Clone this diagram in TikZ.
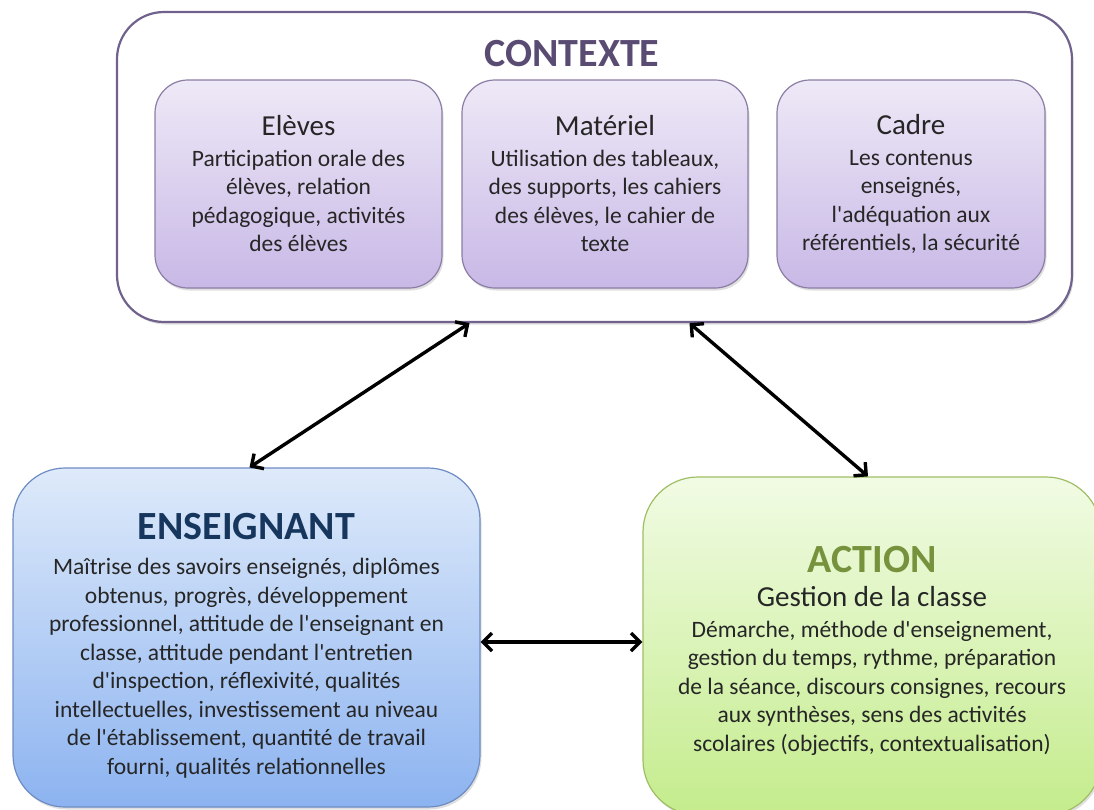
\documentclass[tikz,border=0pt]{standalone}
\usepackage{fontspec}
\setmainfont{Carlito}[Ligatures=TeXOff]
\usepackage{xcolor}
\usetikzlibrary{arrows.meta,shadows}
\definecolor{ctxPurple}{RGB}{90,75,115}
\definecolor{ctxBorder}{RGB}{112,98,140}
\definecolor{ctxTop}{RGB}{238,233,247}
\definecolor{ctxBottom}{RGB}{200,184,230}
\definecolor{ctxEdge}{RGB}{140,125,165}
\definecolor{ensNavy}{RGB}{23,54,93}
\definecolor{ensTop}{RGB}{222,234,250}
\definecolor{ensBottom}{RGB}{140,179,240}
\definecolor{ensEdge}{RGB}{110,140,195}
\definecolor{actOlive}{RGB}{118,146,60}
\definecolor{actTop}{RGB}{241,251,228}
\definecolor{actBottom}{RGB}{196,236,140}
\definecolor{actEdge}{RGB}{160,190,100}
\definecolor{txtGray}{RGB}{38,38,38}
\newcommand{\cellfont}{\fontsize{23.5}{28.5}\selectfont}
\newcommand{\subhead}{\fontsize{29}{33}\selectfont}
\newcommand{\bighead}{\fontsize{40}{46}\selectfont\bfseries}
\tikzset{
  boxshadow/.style={drop shadow={opacity=0.25,shadow xshift=1.5pt,shadow yshift=-2.5pt}},
  subbox/.style={draw=ctxEdge, line width=1.2pt, rounded corners=33pt,
    top color=ctxTop, bottom color=ctxBottom, minimum height=208pt,
    inner sep=0pt, align=center, text=txtGray, font=\cellfont, boxshadow},
  mainbox/.style={line width=1.2pt, rounded corners=52pt, inner sep=0pt,
    align=center, text=txtGray, font=\cellfont, boxshadow},
  link/.style={<->, line width=3.4pt, black}
}

\begin{document}
\begin{tikzpicture}[x=1pt,y=-1pt,
    >={Straight Barb[length=9pt,width=18pt]}]
    \useasboundingbox (0,0) rectangle (1094,809);
    \clip (0,0) rectangle (1094,809);

    % context frame
    \node[draw=ctxBorder, line width=2.2pt, fill=white, rounded corners=47pt,
        minimum width=955pt, minimum height=310pt, boxshadow] (ctx) at (594.5,167) {};
    \node[font=\bighead, text=ctxPurple] (ctxtitle) at (572,54) {CONTEXTE};

    % context sub-boxes
    \node[subbox, minimum width=287pt] (eleves) at (298.5,184)
        {{\subhead Elèves}\\[2pt] Participation orale des\\ élèves, relation\\ pédagogique, activités\\ des élèves};
    \node[subbox, minimum width=286pt] (materiel) at (605,184)
        {{\subhead Matériel}\\[2pt] Utilisation des tableaux,\\ des supports,  les cahiers\\ des élèves, le cahier de\\ texte};
    \node[subbox, minimum width=268pt] (cadre) at (911,184)
        {{\subhead Cadre}\\[2pt] Les contenus\\ enseignés,\\ l'adéquation aux\\ référentiels, la sécurité};

    % teacher
    \node[mainbox, draw=ensEdge, top color=ensTop, bottom color=ensBottom,
        minimum width=467pt, minimum height=339pt] (ens) at (246.5,637.5)
        {\rule{0pt}{42pt}{\bighead\color{ensNavy} ENSEIGNANT}\\[7pt]
         Maîtrise des savoirs enseignés,  diplômes\\
         obtenus,  progrès, développement\\
         professionnel, attitude  de l'enseignant en\\
         classe, attitude  pendant  l'entretien\\
         d'inspection,  réflexivité, qualités\\
         intellectuelles, investissement  au niveau\\
         de l'établissement,  quantité  de travail\\
         fourni, qualités relationnelles};

    % action
    \node[mainbox, draw=actEdge, top color=actTop, bottom color=actBottom,
        rounded corners=55pt, minimum width=458pt, minimum height=338pt] (act) at (872,646)
        {\rule{0pt}{36pt}{\bighead\color{actOlive} ACTION}\\[6pt]
         {\subhead Gestion de la classe}\\[2pt]
         Démarche, méthode  d'enseignement,\\
         gestion du temps, rythme,  préparation\\
         de la séance, discours consignes,  recours\\
         aux synthèses,  sens  des activités\\
         scolaires (objectifs,  contextualisation)};

    % links
    \draw[link] ([xshift=-125pt]ctx.south) -- ([xshift=3pt]ens.north);
    \draw[link] ([xshift=95pt]ctx.south) -- ([xshift=-4pt]act.north);
    \draw[link] ([yshift=-4.5pt]ens.east) -- ([yshift=4pt]act.west);

\end{tikzpicture}
\end{document}
